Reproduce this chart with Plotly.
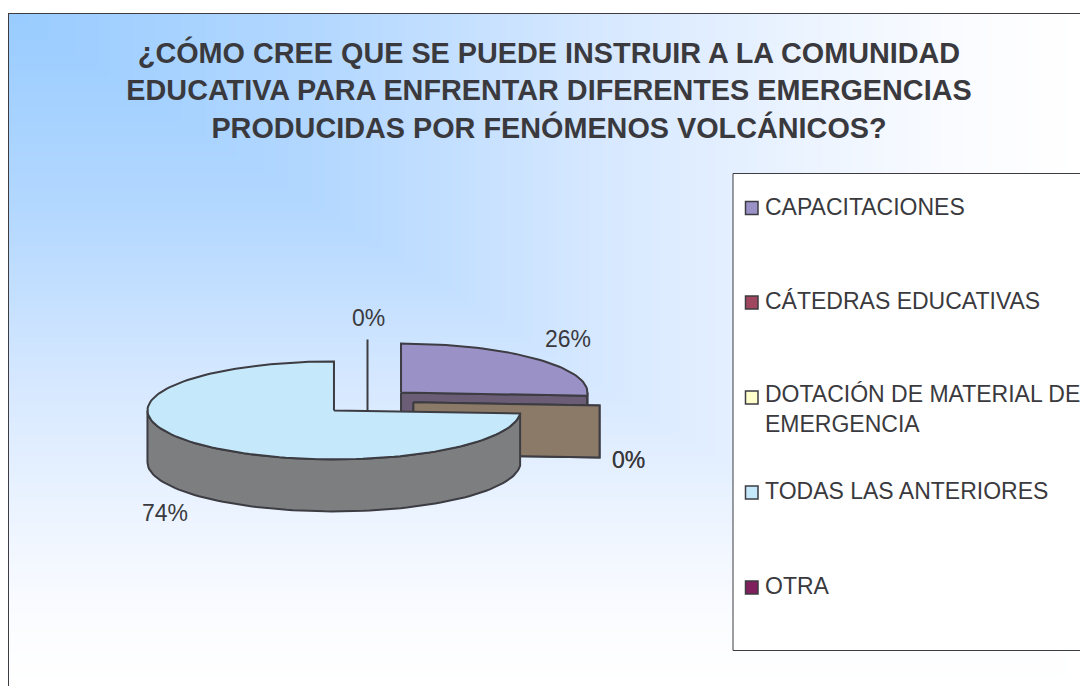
import numpy as np
import plotly.graph_objects as go

TITLE_LINES = ["¿CÓMO CREE QUE SE PUEDE INSTRUIR A LA COMUNIDAD",
               "EDUCATIVA PARA ENFRENTAR DIFERENTES EMERGENCIAS",
               "PRODUCIDAS POR FENÓMENOS VOLCÁNICOS?"]
CATEGORIES = ["CAPACITACIONES", "CÁTEDRAS EDUCATIVAS", "DOTACIÓN DE MATERIAL DE<br>EMERGENCIA",
              "TODAS LAS ANTERIORES", "OTRA"]
VALUES = [26, 0, 0, 74, 0]
COLORS = ["#9A91C6", "#A0465F", "#FFFFCC", "#C5E9FB", "#7F1F5C"]
SIDE_COLORS = ["#6B5D75", "#8C7A68", "#8C7A68", "#7C7E80", "#3B3B40"]

W, H = 1080, 686
CX, CY, RX, RY, DEPTH, EX, EY = 367.5, 401.5, 186.5, 49.0, 52.0, 46.0, 13.0
EDGE = "#3C3C42"
TEXT = "#3A3A3E"

fig = go.Figure()

# background gradient: corner-based fill inside the chart frame (cells are centred, so inset by half a cell)
gx = np.arange(8 + 2.5, W + 2.5, 5.0)
gy = np.arange(13 + 2.5, H + 2.5, 5.0)
t = np.maximum.outer((gy - 13) / (H - 13), (gx - 8) / (W - 8))
fig.add_trace(go.Heatmap(x=gx, y=gy, z=t, zmin=0, zmax=1, zsmooth="best", showscale=False, hoverinfo="skip",
                         colorscale=[[0, "#99CCFF"], [0.3, "#B4D8FF"], [0.55, "#D6E8FF"], [0.8, "#F2F7FF"],
                                     [0.9, "#FBFCFF"], [1, "#FFFFFF"]]))


def poly(xs, ys, fill):
    fig.add_trace(go.Scatter(x=xs, y=ys, mode="lines", fill="toself", fillcolor=fill,
                             line=dict(color=EDGE, width=2), hoverinfo="skip", showlegend=False))


def rim(cx, cy, a0, a1):
    a = np.radians(np.linspace(a0, a1, max(2, int(abs(a1 - a0) / 2) + 2)))
    return cx + RX * np.sin(a), cy - RY * np.cos(a)


total = sum(VALUES)
angles = np.cumsum([0] + VALUES) / total * 360
slices = []
for i, v in enumerate(VALUES):
    a0, a1 = angles[i], angles[i + 1]
    mid = np.radians((a0 + a1) / 2)
    if i == len(VALUES) - 1:
        mid = 0.0
    slices.append(dict(i=i, a0=a0, a1=a1, cx=CX + EX * np.sin(mid), cy=CY - EY * np.cos(mid)))

# back to front: OTRA (edge-on), capacitaciones, the two zero slices, todas
for s in [slices[4], slices[0], slices[1], slices[2], slices[3]]:
    i, a0, a1, cx, cy = s["i"], s["a0"], s["a1"], s["cx"], s["cy"]
    side = SIDE_COLORS[i]
    # radial face at the clockwise end when it faces the viewer
    if a1 % 360 != 0 or VALUES[i] == 0:
        ex, ey = rim(cx, cy, a1, a1)
        poly([cx, ex[0], ex[0], cx, cx], [cy, ey[0], ey[0] + DEPTH, cy + DEPTH, cy], side)
    # outer wall on the front half of the ellipse
    lo, hi = max(a0, 90), min(a1, 270)
    if hi > lo:
        rx, ry = rim(cx, cy, lo, hi)
        poly(np.r_[rx, rx[::-1], rx[0]], np.r_[ry, ry[::-1] + DEPTH, ry[0]], side)
    if VALUES[i] > 0:
        rx, ry = rim(cx, cy, a0, a1)
        poly(np.r_[cx, rx, cx], np.r_[cy, ry, cy], COLORS[i])

layout_shapes = [
    dict(type="line", x0=8.5, x1=8.5, y0=13, y1=H, xref="x", yref="y", line=dict(color="#3C3C42", width=1)),
    dict(type="line", x0=8, x1=W, y0=13.5, y1=13.5, xref="x", yref="y", line=dict(color="#3C3C42", width=1)),
    dict(type="rect", x0=733, x1=W + 10, y0=173.5, y1=650.5, xref="x", yref="y", fillcolor="white",
         line=dict(color="#3C3C42", width=1)),
]

# legend
LEG_Y = [206.5, 301, 396, 491, 586]
annotations = []
for cat, col, y in zip(CATEGORIES, COLORS, LEG_Y):
    layout_shapes.append(dict(type="rect", x0=745.5, x1=758, y0=y - 5, y1=y + 8, xref="x", yref="y",
                              fillcolor=col, line=dict(color=EDGE, width=1.5)))
    two = "<br>" in cat
    annotations.append(dict(x=765, y=y + (13 if two else 0), xref="x", yref="y", text=cat, showarrow=False,
                            xanchor="left", xshift=-2, yanchor="middle", align="left",
                            font=dict(size=23, color=TEXT, family="Liberation Sans")))

# percent labels, read from the values
LABEL_AT = [(568, 339), (628.5, 460), (628.5, 460), (165, 513), (368, 318)]
for v, (x, y) in zip(VALUES, LABEL_AT):
    annotations.append(dict(x=x, y=y, xref="x", yref="y", text=f"{v}%", showarrow=False,
                            font=dict(size=23, color=TEXT, family="Liberation Sans")))

fig.update_layout(
    width=W, height=H, margin=dict(l=0, r=0, t=0, b=0), autosize=False,
    paper_bgcolor="white", plot_bgcolor="white", showlegend=False,
    title=dict(text="<br>".join(TITLE_LINES), x=549 / W, xanchor="center", y=1 - 63 / H, yanchor="top",
               font=dict(size=28.8, color=TEXT, family="Liberation Sans", weight="bold")),
    xaxis=dict(range=[0, W], visible=False, fixedrange=True),
    yaxis=dict(range=[H, 0], visible=False, fixedrange=True),
    shapes=layout_shapes, annotations=annotations,
)
fig.write_html("out.html", config=dict(displayModeBar=False),
               post_script="document.body.style.margin='0';document.documentElement.style.overflow='hidden';")
